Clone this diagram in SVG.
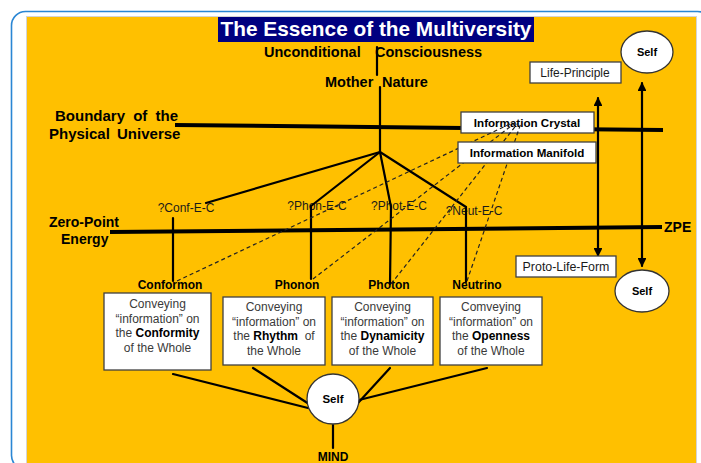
<svg xmlns="http://www.w3.org/2000/svg" width="701" height="463" viewBox="0 0 701 463">
<defs>
<style>
.b{font-family:"Liberation Sans",Arial,sans-serif;font-weight:bold;fill:#000}
.n{font-family:"Liberation Sans",Arial,sans-serif;fill:#1a1a1a}
.bx{fill:#fff;stroke:#404040;stroke-width:1.3}
.t{font-family:"Liberation Sans",Arial,sans-serif;font-size:12px;fill:#3a3a3a;text-anchor:middle}
.t tspan.k{font-weight:bold;fill:#000}
.ln{stroke:#000;stroke-width:2.2;fill:none;stroke-linecap:round}
.thick{stroke:#000;stroke-width:4;fill:none}
.d{stroke:#222;stroke-width:1.2;stroke-dasharray:4 3;fill:none}
</style>
<marker id="ah" viewBox="0 0 10 10" refX="9" refY="5" markerWidth="4" markerHeight="4" orient="auto-start-reverse">
<path d="M0,0 L10,5 L0,10 z" fill="#000"/>
</marker>
</defs>
<rect x="0" y="0" width="701" height="463" fill="#fff"/>
<rect x="11.5" y="11.5" width="700" height="458" rx="14" fill="none" stroke="#2a86d4" stroke-width="1.6"/>
<rect x="26.5" y="16.5" width="670" height="450" fill="#FFC000" stroke="#d4d4d4" stroke-width="1"/>

<g id="title">
<rect x="218" y="17" width="316" height="25" fill="#000080"/>
<text x="376" y="36" class="b" style="fill:#fff" font-size="20.8" text-anchor="middle">The Essence of the Multiversity</text>
</g>

<g id="labels">
<text x="264" y="57" class="b" font-size="14.5">Unconditional</text>
<text x="375" y="57" class="b" font-size="14.5">Consciousness</text>
<text x="325" y="87" class="b" font-size="14.5">Mother</text>
<text x="382" y="87" class="b" font-size="14.5">Nature</text>
<text x="55" y="121" class="b" font-size="15" word-spacing="4">Boundary of the</text>
<text x="49" y="139" class="b" font-size="15" word-spacing="3">Physical Universe</text>
<text x="49" y="227" class="b" font-size="14">Zero-Point</text>
<text x="61" y="244" class="b" font-size="14">Energy</text>
<text x="664" y="232" class="b" font-size="14">ZPE</text>
<text x="186" y="212" class="n" font-size="12" text-anchor="middle">?Conf-E-C</text>
<text x="317" y="210" class="n" font-size="12" text-anchor="middle">?Phon-E-C</text>
<text x="399" y="210" class="n" font-size="12" text-anchor="middle">?Phot-E-C</text>
<text x="474" y="215" class="n" font-size="12" text-anchor="middle">?Neut-E-C</text>
<text x="170" y="289" class="b" font-size="12" text-anchor="middle">Conformon</text>
<text x="297" y="289" class="b" font-size="12" text-anchor="middle">Phonon</text>
<text x="389" y="289" class="b" font-size="12" text-anchor="middle">Photon</text>
<text x="477" y="289" class="b" font-size="12" text-anchor="middle">Neutrino</text>
<text x="333" y="461" class="b" font-size="12" text-anchor="middle">MIND</text>
</g>

<g id="connectors">
<line class="ln" x1="377" y1="47" x2="377" y2="75" stroke-width="1.6"/>
<line class="ln" x1="380" y1="87" x2="380" y2="152" stroke-width="1.8"/>
<line class="thick" x1="175" y1="125" x2="663" y2="130" stroke-width="3.5"/>
<line class="thick" x1="110" y1="232" x2="662" y2="227"/>
<line class="ln" x1="380" y1="152" x2="206" y2="203"/>
<line class="ln" x1="380" y1="152" x2="311" y2="206"/>
<line class="ln" x1="380" y1="152" x2="391" y2="207"/>
<line class="ln" x1="380" y1="152" x2="466" y2="207"/>
<line class="ln" x1="173" y1="218" x2="173" y2="281"/>
<line class="ln" x1="311" y1="206" x2="311" y2="279"/>
<line class="ln" x1="391" y1="207" x2="390" y2="284"/>
<line class="ln" x1="466" y1="207" x2="466" y2="282"/>
<line class="ln" x1="598" y1="98" x2="598" y2="256" stroke-width="1.8" marker-start="url(#ah)" marker-end="url(#ah)"/>
<line class="ln" x1="642" y1="83" x2="642" y2="266" stroke-width="1.8" marker-start="url(#ah)" marker-end="url(#ah)"/>
<line class="ln" x1="173" y1="374" x2="308" y2="408"/>
<line class="ln" x1="253" y1="368" x2="309" y2="404"/>
<line class="ln" x1="390" y1="368" x2="358" y2="403"/>
<line class="ln" x1="487" y1="368" x2="359" y2="400"/>
<line class="ln" x1="333" y1="425" x2="333" y2="448"/>
</g>

<g id="info-crystal">
<rect class="bx" x="461" y="112" width="133" height="21"/>
<text x="527" y="127" class="b" font-size="11.6" text-anchor="middle">Information Crystal</text>
</g>

<g id="dashed-connectors">
<line class="d" x1="177" y1="281" x2="512" y2="123"/>
<line class="d" x1="313" y1="279" x2="515" y2="123"/>
<line class="d" x1="391" y1="284" x2="518" y2="123"/>
<line class="d" x1="467" y1="281" x2="521" y2="123"/>
</g>

<g id="info-manifold">
<rect class="bx" x="458" y="142" width="138" height="21"/>
<text x="527" y="157" class="b" font-size="11.6" text-anchor="middle">Information Manifold</text>
</g>

<g id="life-principle">
<rect class="bx" x="530" y="62" width="91" height="21"/>
<text x="575" y="77" class="n" font-size="12" text-anchor="middle">Life-Principle</text>
</g>

<g id="proto-life-form">
<rect class="bx" x="516" y="256" width="100" height="21"/>
<text x="566" y="271" class="n" font-size="12.4" text-anchor="middle">Proto-Life-Form</text>
</g>

<g id="self-top">
<ellipse cx="647" cy="52" rx="26" ry="21" fill="#fff" stroke="#333" stroke-width="1.3"/>
<text x="647" y="56" class="b" font-size="11" text-anchor="middle">Self</text>
</g>

<g id="self-right">
<ellipse cx="642" cy="291" rx="27" ry="21" fill="#fff" stroke="#333" stroke-width="1.3"/>
<text x="642" y="295" class="b" font-size="11" text-anchor="middle">Self</text>
</g>

<g id="box-conformity">
<rect class="bx" x="104" y="293" width="107" height="77"/>
<text class="t" x="157.5" y="308">Conveying</text>
<text class="t" x="157.5" y="323">“information” on</text>
<text class="t" x="157.5" y="337">the <tspan class="k">Conformity</tspan></text>
<text class="t" x="157.5" y="352">of the Whole</text>
</g>

<g id="box-rhythm">
<rect class="bx" x="223" y="297" width="102" height="68"/>
<text class="t" x="274" y="311">Conveying</text>
<text class="t" x="274" y="326">“information” on</text>
<text class="t" x="274" y="340" xml:space="preserve">the <tspan class="k">Rhythm</tspan>  of</text>
<text class="t" x="274" y="355">the Whole</text>
</g>

<g id="box-dynamicity">
<rect class="bx" x="332" y="297" width="101" height="68"/>
<text class="t" x="382.5" y="311">Conveying</text>
<text class="t" x="382.5" y="326">“information” on</text>
<text class="t" x="382.5" y="340">the <tspan class="k">Dynamicity</tspan></text>
<text class="t" x="382.5" y="355">of the Whole</text>
</g>

<g id="box-openness">
<rect class="bx" x="440" y="297" width="102" height="68"/>
<text class="t" x="491" y="311">Comveying</text>
<text class="t" x="491" y="326">“information” on</text>
<text class="t" x="491" y="340">the <tspan class="k">Openness</tspan></text>
<text class="t" x="491" y="355">of the Whole</text>
</g>

<g id="self-center">
<ellipse cx="333" cy="399" rx="26" ry="25" fill="#fff" stroke="#333" stroke-width="1.3"/>
<text x="333" y="403" class="b" font-size="11.5" text-anchor="middle">Self</text>
</g>
</svg>
